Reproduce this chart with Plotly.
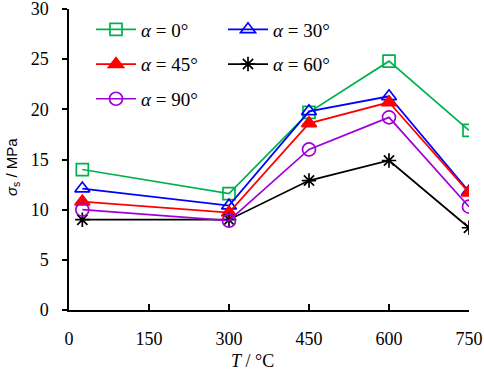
import plotly.graph_objects as go

temps = [25, 300, 450, 600, 750]
s_0 = [14.0, 11.6, 19.7, 24.8, 17.9]
s_30 = [12.1, 10.4, 19.8, 21.3, 11.8]
s_45 = [10.8, 9.7, 18.6, 20.7, 11.7]
s_60 = [9.0, 9.0, 12.9, 14.9, 8.2]
s_90 = [10.0, 8.9, 16.0, 19.2, 10.3]
x_ticks = [0, 150, 300, 450, 600, 750]
y_ticks = [0, 5, 10, 15, 20, 25, 30]

series = [
    ("<i>α</i> = 0°", s_0, "#00B050", "square-open", 12, "legend", "g0"),
    ("<i>α</i> = 30°", s_30, "#0000FF", "triangle-up-open", 13, "legend2", "g1"),
    ("<i>α</i> = 45°", s_45, "#FF0000", "triangle-up", 13, "legend", "g1"),
    ("<i>α</i> = 60°", s_60, "#000000", "asterisk-open", 12, "legend2", "g2"),
    ("<i>α</i> = 90°", s_90, "#A000D8", "circle-open", 13, "legend", "g2"),
]

fig = go.Figure()
for name, vals, col, sym, size, leg, grp in series:
    fig.add_trace(go.Scatter(
        x=temps, y=vals, name=name, mode="lines+markers",
        line=dict(color=col, width=1.7),
        marker=dict(symbol=sym, size=size, color=col, line=dict(color=col, width=1.7)),
        legend=leg, legendgroup=grp,
    ))

leg_common = dict(
    bgcolor="rgba(0,0,0,0)", borderwidth=0,
    font=dict(family="Liberation Serif", size=19, color="black"),
    tracegroupgap=7, yanchor="top", xanchor="left",
    orientation="v", itemwidth=40,
)

fig.update_layout(
    width=484, height=371,
    margin=dict(l=69, r=15, t=9, b=61, autoexpand=False),
    plot_bgcolor="white", paper_bgcolor="white",
    showlegend=True,
    legend=dict(x=0.055, y=0.995, **leg_common),
    legend2=dict(x=0.385, y=0.995, **leg_common),
    xaxis=dict(
        range=[0, 750], tickvals=x_ticks, ticktext=[str(v) for v in x_ticks],
        showgrid=False, zeroline=False, showline=True, linecolor="black", linewidth=1.5,
        ticks="inside", ticklen=6, tickcolor="black", tickwidth=1.5,
        ticklabelstandoff=12, automargin=False, ticklabeloverflow="allow",
        tickfont=dict(family="Liberation Serif", size=18, color="black"),
    ),
    yaxis=dict(
        range=[0, 30], tickvals=y_ticks,
        showgrid=False, zeroline=False, showline=True, linecolor="black", linewidth=1.5,
        ticks="outside", ticklen=5, tickcolor="black", tickwidth=1.5,
        ticklabelstandoff=10, automargin=False, ticklabeloverflow="allow",
        tickfont=dict(family="Liberation Serif", size=18, color="black"),
    ),
    annotations=[
        dict(text="<i>T</i> / °C", xref="paper", yref="paper",
             x=(252 - 69) / 400, y=-(361 - 310) / 301, xanchor="center", yanchor="middle",
             showarrow=False, font=dict(family="Liberation Serif", size=18, color="black")),
        dict(text="<i>σ</i><sub>s</sub> / MPa", xref="paper", yref="paper",
             x=-(69 - 12) / 400, y=(310 - 167) / 301, xanchor="center", yanchor="middle",
             textangle=-90, showarrow=False,
             font=dict(family="Liberation Sans", size=15, color="black")),
    ],
)

fig.write_html("out.html", config={"displayModeBar": False},
               post_script="document.body.style.margin='0px';document.body.style.padding='0px';")
